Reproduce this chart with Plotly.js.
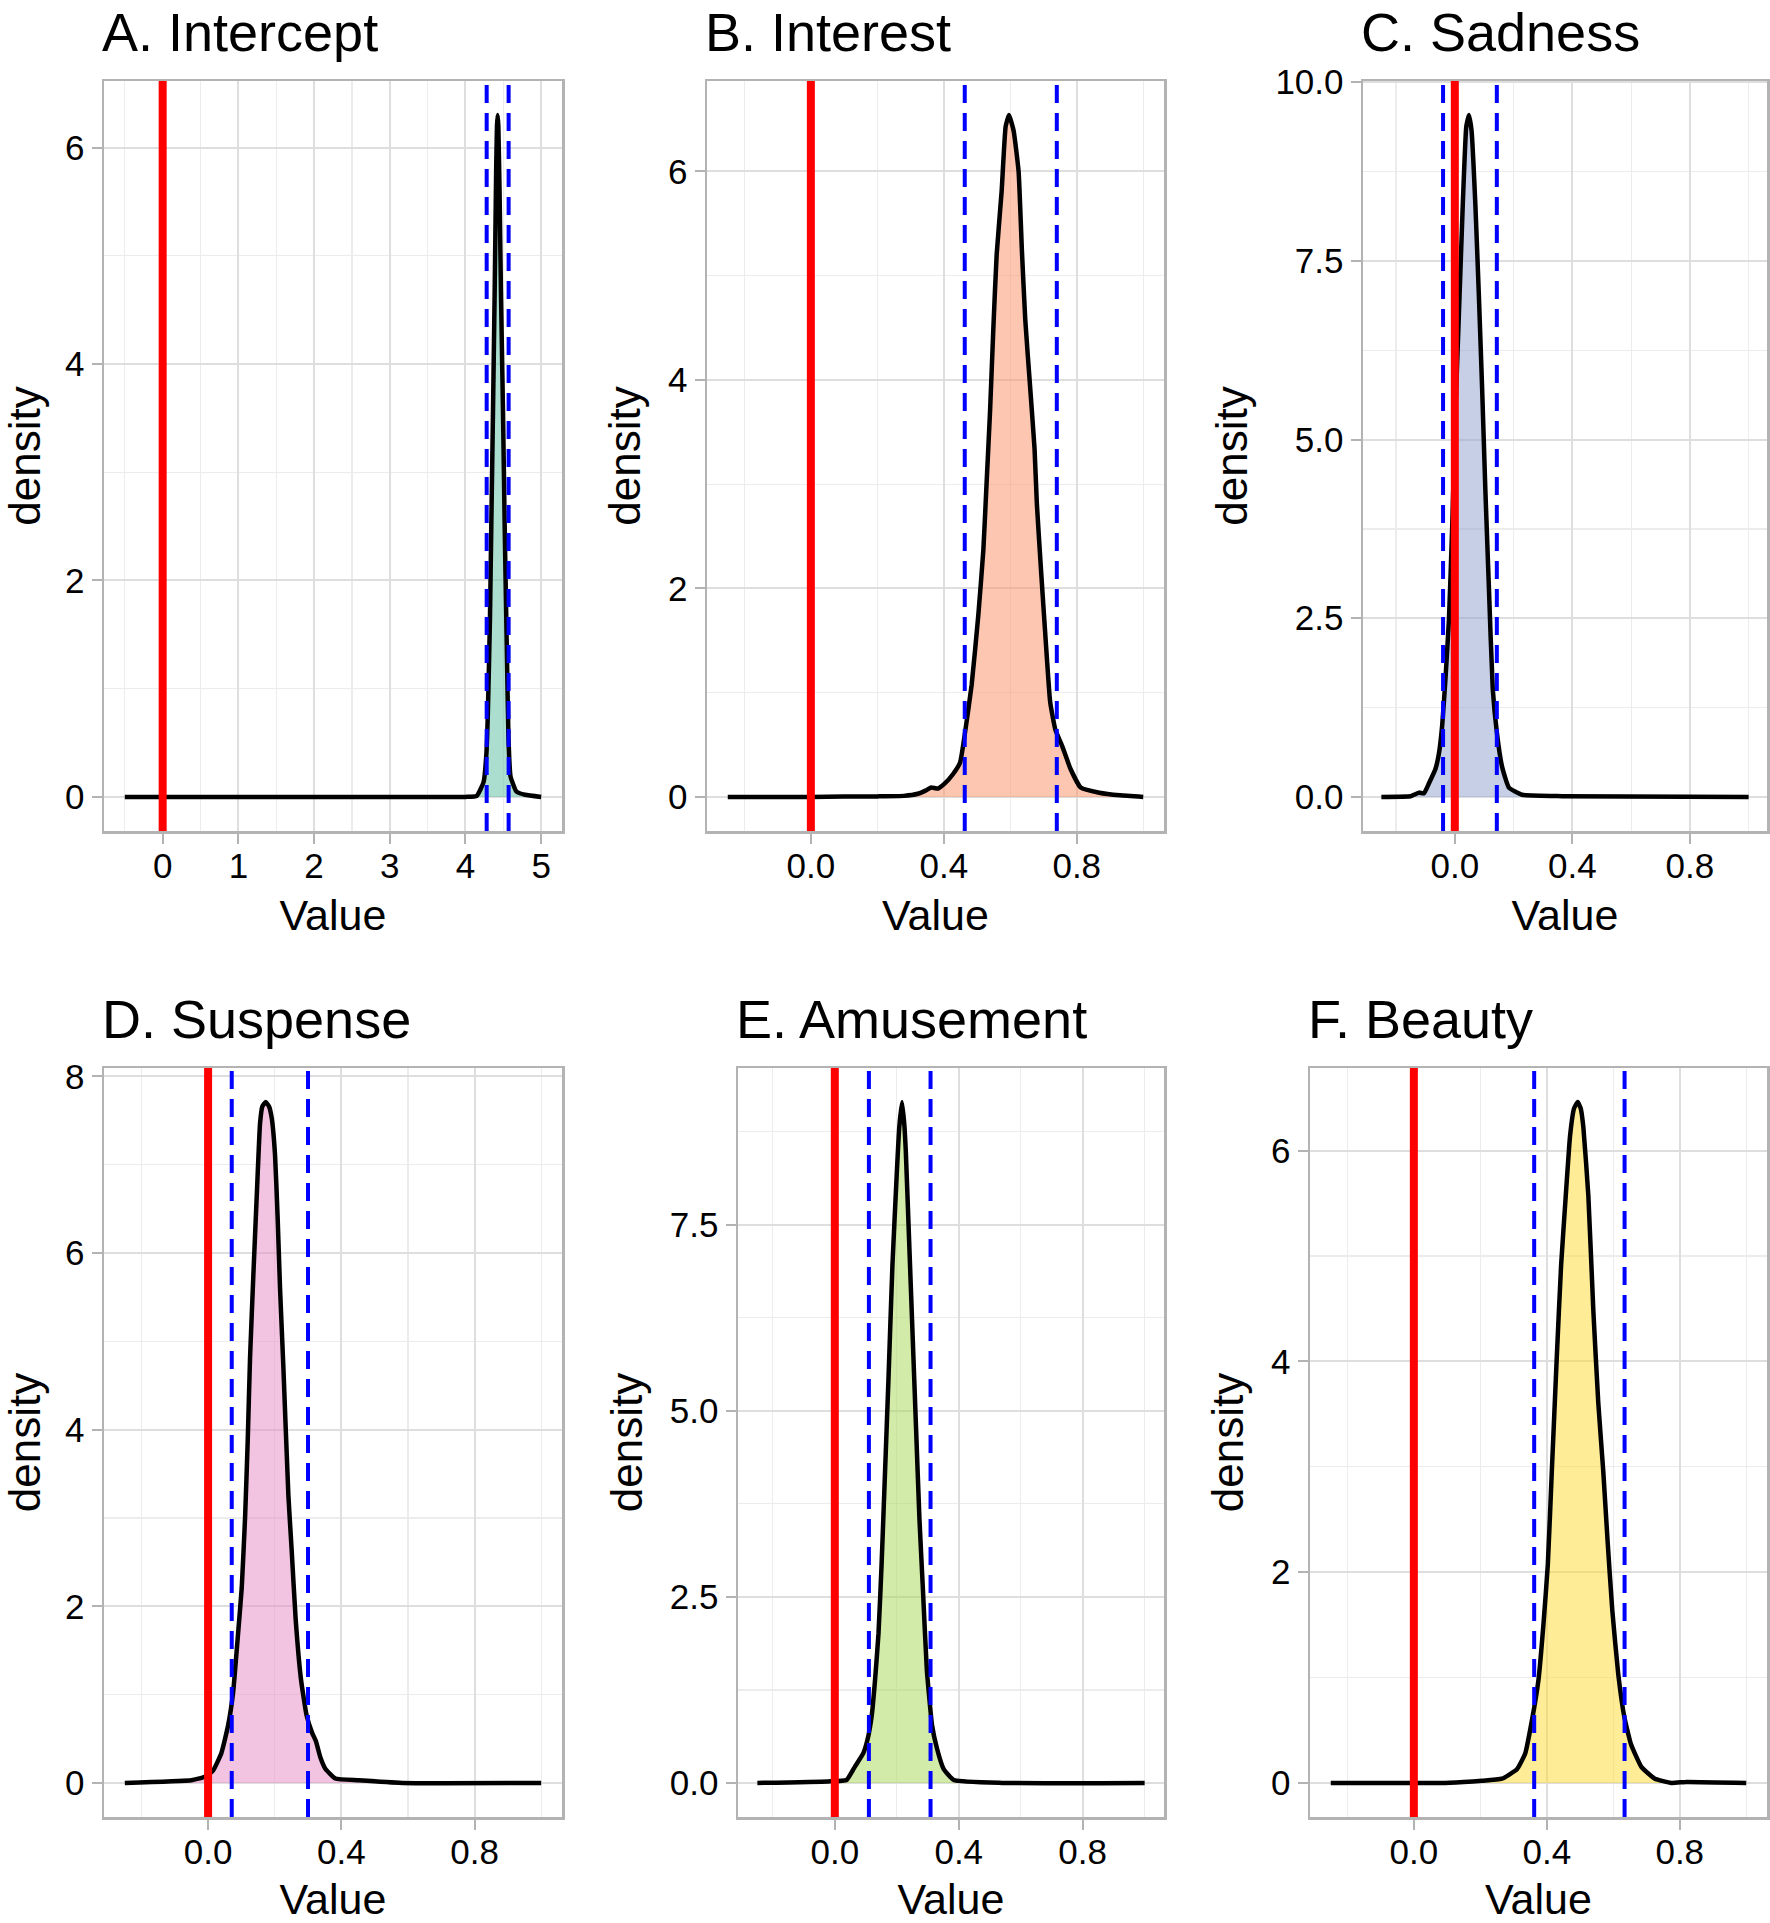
<!DOCTYPE html>
<html><head><meta charset="utf-8">
<script src="https://cdn.plot.ly/plotly-3.0.1.min.js"></script>
<style>html,body{margin:0;padding:0;background:#fff}</style>
</head><body><div id="chart" style="width:1770px;height:1923px"></div>
<script>
// ---------- DATA ----------
const panelTitles = ["A. Intercept", "B. Interest", "C. Sadness", "D. Suspense", "E. Amusement", "F. Beauty"];
const xLabel = "Value";
const yLabel = "density";

const xA = [-0.5, 4.0, 4.15, 4.24, 4.277, 4.295, 4.323, 4.341, 4.364, 4.386, 4.405, 4.416, 4.425, 4.434, 4.45, 4.468, 4.495, 4.518, 4.545, 4.568, 4.595, 4.673, 4.786, 5.0];
const yA = [0, 0.0, 0.01, 0.14, 0.41, 0.76, 1.63, 2.5, 3.59, 4.69, 5.78, 6.2, 6.3, 6.2, 5.6, 4.69, 3.59, 2.5, 1.41, 0.54, 0.19, 0.05, 0.02, 0.0];

const xB = [-0.25, 0.0, 0.1, 0.2, 0.28, 0.322, 0.345, 0.362, 0.382, 0.403, 0.428, 0.449, 0.464, 0.484, 0.504, 0.519, 0.529, 0.539, 0.549, 0.559, 0.574, 0.586, 0.596, 0.610, 0.625, 0.635, 0.645, 0.660, 0.673, 0.680, 0.693, 0.707, 0.720, 0.736, 0.756, 0.781, 0.812, 0.868, 0.93, 1.0];
const yB = [0, 0, 0.003, 0.005, 0.01, 0.03, 0.06, 0.09, 0.08, 0.13, 0.22, 0.33, 0.62, 1.08, 1.75, 2.37, 3.03, 3.69, 4.49, 5.2, 5.81, 6.43, 6.54, 6.39, 6.0, 5.24, 4.58, 3.92, 3.34, 2.81, 2.15, 1.48, 0.91, 0.64, 0.49, 0.27, 0.09, 0.04, 0.015, 0.0];

const xC = [-0.25, -0.15, -0.139, -0.122, -0.105, -0.088, -0.066, -0.054, -0.043, -0.032, -0.020, -0.009, 0.002, 0.016, 0.027, 0.039, 0.048, 0.057, 0.070, 0.082, 0.093, 0.104, 0.116, 0.129, 0.144, 0.161, 0.184, 0.229, 0.365, 1.0];
const yC = [0, 0.01, 0.03, 0.06, 0.05, 0.19, 0.39, 0.61, 1.0, 1.64, 2.48, 3.77, 5.38, 7.0, 8.28, 9.38, 9.54, 9.32, 8.28, 7.0, 5.71, 4.29, 2.93, 1.52, 0.87, 0.42, 0.13, 0.03, 0.01, 0];

const xD = [-0.25, -0.05, -0.01, 0.015, 0.04, 0.06, 0.075, 0.09, 0.101, 0.111, 0.119, 0.126, 0.136, 0.146, 0.156, 0.163, 0.173, 0.183, 0.191, 0.201, 0.209, 0.216, 0.226, 0.241, 0.251, 0.263, 0.279, 0.296, 0.312, 0.324, 0.337, 0.352, 0.382, 0.452, 0.583, 1.0];
const yD = [0, 0.03, 0.07, 0.14, 0.34, 0.65, 1.02, 1.69, 2.21, 3.0, 3.88, 4.82, 5.76, 6.64, 7.47, 7.66, 7.71, 7.66, 7.53, 7.11, 6.38, 5.60, 4.71, 3.26, 2.63, 1.85, 1.17, 0.76, 0.57, 0.47, 0.29, 0.16, 0.05, 0.03, 0.0, 0];

const xE = [-0.25, -0.022, 0.038, 0.065, 0.092, 0.106, 0.119, 0.130, 0.141, 0.151, 0.162, 0.173, 0.186, 0.200, 0.208, 0.217, 0.225, 0.229, 0.240, 0.251, 0.262, 0.273, 0.284, 0.297, 0.314, 0.330, 0.351, 0.384, 0.54, 1.0];
const yE = [0, 0.02, 0.04, 0.22, 0.40, 0.59, 0.90, 1.39, 2.01, 2.94, 4.17, 5.41, 6.96, 8.19, 8.81, 9.15, 8.81, 8.50, 7.27, 6.03, 4.79, 3.56, 2.63, 1.52, 0.77, 0.46, 0.19, 0.04, 0.0, 0];

const xF = [-0.25, 0.085, 0.15, 0.205, 0.265, 0.310, 0.335, 0.355, 0.375, 0.390, 0.403, 0.415, 0.430, 0.443, 0.457, 0.470, 0.482, 0.493, 0.502, 0.510, 0.525, 0.540, 0.555, 0.570, 0.583, 0.597, 0.615, 0.633, 0.653, 0.685, 0.725, 0.775, 0.82, 1.0];
const yF = [0, 0, 0.01, 0.02, 0.04, 0.13, 0.28, 0.59, 0.98, 1.51, 2.07, 2.95, 4.04, 4.91, 5.57, 6.14, 6.4, 6.46, 6.4, 6.22, 5.57, 4.48, 3.60, 2.95, 2.29, 1.64, 1.03, 0.63, 0.37, 0.15, 0.04, 0.0, 0.01, 0];

const ciLow  = [4.28, 0.463, -0.040, 0.071, 0.110, 0.362];
const ciHigh = [4.57, 0.740, 0.143, 0.300, 0.309, 0.634];
const nullValue = 0;

const xTickStep = [1, 0.4, 0.4, 0.4, 0.4, 0.4];
const yTickStep = [2, 2, 2.5, 2, 2.5, 2];

// ---------- STYLE / LAYOUT ----------
const W = 1770, H = 1923;
const fillColors = ["rgba(102,194,165,0.55)", "rgba(252,141,98,0.5)", "rgba(141,160,203,0.5)",
                    "rgba(231,138,195,0.5)", "rgba(166,216,84,0.5)", "rgba(255,217,47,0.5)"];
// panel boxes in px: [left, right, top, bottom]
const boxes = [[104, 562, 81, 831], [707, 1164, 81, 831], [1363, 1767, 81, 831],
               [104, 562, 1068, 1817], [738, 1164, 1068, 1817], [1310, 1767, 1068, 1817]];
const xs = [xA, xB, xC, xD, xE, xF];
const ys = [yA, yB, yC, yD, yE, yF];

const FONT = "Liberation Sans, Arial, Helvetica, sans-serif";
const borderCol = "#b3b3b3", gridMajor = "#dedede", gridMinor = "#ececec";

const traces = [];
const layout = {
  width: W, height: H,
  margin: {l: 0, r: 0, t: 0, b: 0},
  paper_bgcolor: "#fff", plot_bgcolor: "#fff",
  showlegend: false,
  font: {family: FONT, color: "#000"},
  shapes: [], annotations: []
};

for (let i = 0; i < 6; i++) {
  const n = i === 0 ? "" : String(i + 1);
  const xa = "x" + n, ya = "y" + n;
  const xMin = Math.min(...xs[i]), xMax = Math.max(...xs[i]);
  const yMax = Math.max(...ys[i]);
  const xr = [xMin - 0.05 * (xMax - xMin), xMax + 0.05 * (xMax - xMin)];
  const yr = [-0.05 * yMax, 1.05 * yMax];
  const b = boxes[i];

  traces.push({
    type: "scatter", mode: "lines", x: xs[i], y: ys[i], xaxis: xa, yaxis: ya,
    fill: "tozeroy", fillcolor: fillColors[i],
    line: {color: "#000", width: 4.5, shape: "spline", smoothing: 0.4}, hoverinfo: "x+y"
  });

  const common = {
    showline: true, mirror: true, linecolor: borderCol, linewidth: 2.5,
    ticks: "outside", ticklen: 10, tickwidth: 2, tickcolor: borderCol,
    showgrid: true, gridcolor: gridMajor, gridwidth: 2, zeroline: false,
    tickfont: {size: 35, color: "#000", family: FONT}, tickmode: "linear", tick0: 0
  };

  layout["xaxis" + n] = Object.assign({}, common, {
    domain: [b[0] / W, b[1] / W], anchor: ya, range: xr,
    dtick: xTickStep[i], tickformat: i === 0 ? "d" : ".1f", ticklabelstandoff: -8,
    minor: {dtick: xTickStep[i] / 2, tick0: 0, showgrid: true, gridcolor: gridMinor, gridwidth: 1.2},
    title: {text: xLabel, font: {size: 43, color: "#000", family: FONT}, standoff: 17}
  });
  layout["yaxis" + n] = Object.assign({}, common, {
    domain: [1 - b[3] / H, 1 - b[2] / H], anchor: xa, range: yr,
    dtick: yTickStep[i], tickformat: yTickStep[i] === 2.5 ? ".1f" : "d",
    minor: {dtick: yTickStep[i] / 2, tick0: 0, showgrid: true, gridcolor: gridMinor, gridwidth: 1.2},
    title: {text: yLabel, font: {size: 44, color: "#000", family: FONT}, standoff: 14}
  });

  layout.shapes.push({type: "line", xref: xa, yref: ya + " domain", x0: nullValue, x1: nullValue, y0: 0, y1: 1,
                      line: {color: "#ff0000", width: 8}, layer: "above"});
  [ciLow[i], ciHigh[i]].forEach(v => layout.shapes.push({
    type: "line", xref: xa, yref: ya + " domain", x0: v, x1: v, y0: 0, y1: 1,
    line: {color: "#0000ff", width: 4, dash: "18px,10px"}, layer: "above"}));

  layout.annotations.push({
    text: panelTitles[i], xref: xa + " domain", yref: ya + " domain", x: 0, y: 1,
    xanchor: "left", yanchor: "bottom", yshift: 17, xshift: -4, showarrow: false,
    font: {size: 54, color: "#000", family: FONT}
  });
}

Plotly.newPlot("chart", traces, layout, {staticPlot: true});
</script></body></html>
